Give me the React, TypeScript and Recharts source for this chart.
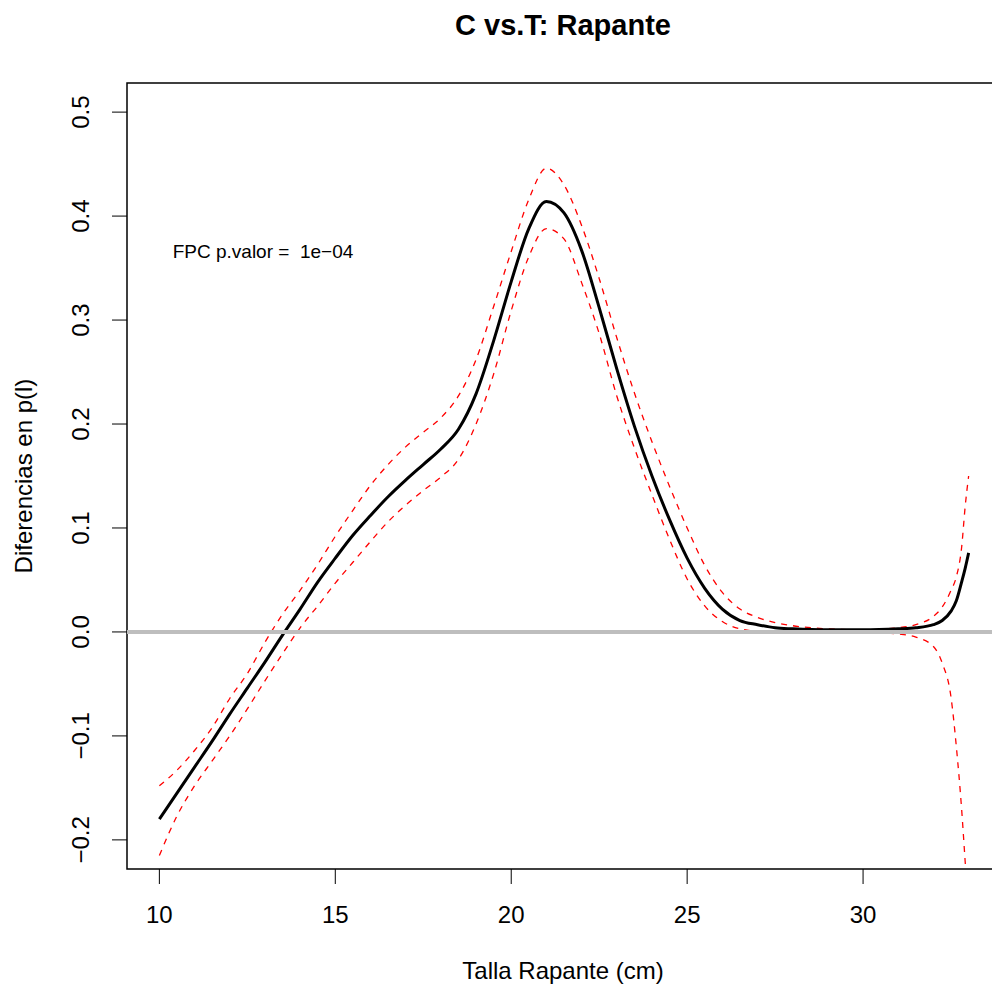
import { LineChart, Line, XAxis, YAxis, ReferenceLine, ReferenceArea } from "recharts";

// talla (cm)
const tallas = [
  10, 10.5, 11, 11.5, 12, 12.5, 13, 13.5, 14, 14.5, 15, 15.5, 16, 16.5, 17, 17.5, 18, 18.5,
  19, 19.5, 20, 20.5, 21, 21.5, 22, 22.5, 23, 23.5, 24, 24.5, 25, 25.5, 26, 26.5, 27, 27.5,
  28, 29, 30, 31, 31.5, 32, 32.25, 32.5, 32.65, 32.8, 32.9, 33,
];

// diferencia estimada
const diferencia = [
  -0.18, -0.155, -0.13, -0.105, -0.079, -0.054, -0.029, -0.003, 0.022, 0.048, 0.071, 0.093,
  0.112, 0.13, 0.146, 0.161, 0.176, 0.195, 0.229, 0.28, 0.337, 0.388, 0.414, 0.403, 0.367,
  0.312, 0.253, 0.198, 0.15, 0.108, 0.071, 0.042, 0.022, 0.011, 0.007, 0.004, 0.003, 0.002,
  0.002, 0.003, 0.004, 0.007, 0.011, 0.02, 0.03, 0.048, 0.061, 0.076,
];

// banda superior
const bandaSup = [
  -0.148, -0.133, -0.114, -0.092, -0.064, -0.04, -0.01, 0.017, 0.04, 0.065, 0.092, 0.117,
  0.141, 0.161, 0.178, 0.192, 0.206, 0.227, 0.262, 0.313, 0.366, 0.416, 0.446, 0.43, 0.391,
  0.34, 0.283, 0.23, 0.183, 0.14, 0.1, 0.064, 0.038, 0.022, 0.014, 0.009, 0.006, 0.003,
  0.002, 0.004, 0.007, 0.015, 0.024, 0.04, 0.053, 0.081, 0.12, 0.15,
];

// banda inferior
const bandaInf = [
  -0.215, -0.177, -0.148, -0.124, -0.1, -0.074, -0.047, -0.021, 0.004, 0.025, 0.047, 0.067,
  0.087, 0.106, 0.122, 0.136, 0.149, 0.166, 0.2, 0.248, 0.309, 0.361, 0.388, 0.378, 0.336,
  0.287, 0.227, 0.177, 0.132, 0.089, 0.051, 0.025, 0.01, 0.003, 0.001, 0.001, 0.001, 0.001,
  0, -0.002, -0.005, -0.014, -0.03, -0.063, -0.11, -0.17, -0.22, -0.27,
];

const xTicks = [10, 15, 20, 25, 30];
const yTicks = [-0.2, -0.1, 0, 0.1, 0.2, 0.3, 0.4, 0.5];
const xDomain = [9.08, 33.92];
const yDomain = [-0.228, 0.528];

const data = tallas.map((t, i) => ({
  t,
  fit: diferencia[i],
  sup: bandaSup[i],
  inf: bandaInf[i],
}));

const FONT = "'Liberation Sans', Arial, Helvetica, sans-serif";

const XTick = ({ x, y, payload }: any) => (
  <text x={x} y={y} dy={37} textAnchor="middle" fontSize={24} fontFamily={FONT} fill="#000">
    {payload.value}
  </text>
);

const YTick = ({ x, y, payload }: any) => {
  const cx = x - 29;
  return (
    <text
      x={cx}
      y={y}
      transform={`rotate(-90 ${cx} ${y})`}
      textAnchor="middle"
      dominantBaseline="central"
      fontSize={24}
      fontFamily={FONT}
      fill="#000"
    >
      {payload.value.toFixed(1).replace("-", "\u2212")}
    </text>
  );
};

export default function App() {
  return (
    <div
      style={{
        position: "absolute",
        left: 0,
        top: 0,
        width: 992,
        height: 989,
        overflow: "hidden",
        background: "#fff",
      }}
    >
      <LineChart width={1020} height={989} data={data} margin={{ top: 83, right: 19, bottom: 0, left: 0 }}>
        <XAxis
          dataKey="t"
          type="number"
          domain={xDomain}
          ticks={xTicks}
          allowDataOverflow
          axisLine={false}
          tickLine={{ stroke: "#000", strokeWidth: 1 }}
          tickSize={15}
          height={120}
          tick={<XTick />}
        />
        <YAxis
          type="number"
          domain={yDomain}
          ticks={yTicks}
          allowDataOverflow
          axisLine={false}
          tickLine={{ stroke: "#000", strokeWidth: 1 }}
          tickSize={15}
          width={127}
          tick={<YTick />}
        />
        <ReferenceArea
          x1={xDomain[0]}
          x2={xDomain[1]}
          y1={yDomain[0]}
          y2={yDomain[1]}
          fill="none"
          fillOpacity={0}
          stroke="#000"
          strokeWidth={1.5}
          ifOverflow="visible"
        />
        <Line
          dataKey="sup"
          type="monotone"
          stroke="#ff0000"
          strokeWidth={1.3}
          strokeDasharray="6 6"
          dot={false}
          isAnimationActive={false}
        />
        <Line
          dataKey="inf"
          type="monotone"
          stroke="#ff0000"
          strokeWidth={1.3}
          strokeDasharray="6 6"
          dot={false}
          isAnimationActive={false}
        />
        <Line
          dataKey="fit"
          type="monotone"
          stroke="#000"
          strokeWidth={3}
          dot={false}
          isAnimationActive={false}
        />
        <ReferenceLine y={0} stroke="#bebebe" strokeWidth={4} />
      </LineChart>
      <svg
        width={1020}
        height={989}
        style={{ position: "absolute", left: 0, top: 0, pointerEvents: "none" }}
        fontFamily={FONT}
      >
        <text x={563} y={35} textAnchor="middle" fontSize={29} fontWeight="bold" fill="#000">
          C vs.T: Rapante
        </text>
        <text x={563} y={979} textAnchor="middle" fontSize={24} fill="#000">
          Talla Rapante (cm)
        </text>
        <text
          x={23}
          y={476}
          transform="rotate(-90 23 476)"
          textAnchor="middle"
          dominantBaseline="central"
          fontSize={24}
          fill="#000"
        >
          Diferencias en p(l)
        </text>
        <text x={263} y={258} textAnchor="middle" fontSize={19} fill="#000" style={{ whiteSpace: "pre" }}>
          {"FPC p.valor =  1e\u221204"}
        </text>
      </svg>
    </div>
  );
}
